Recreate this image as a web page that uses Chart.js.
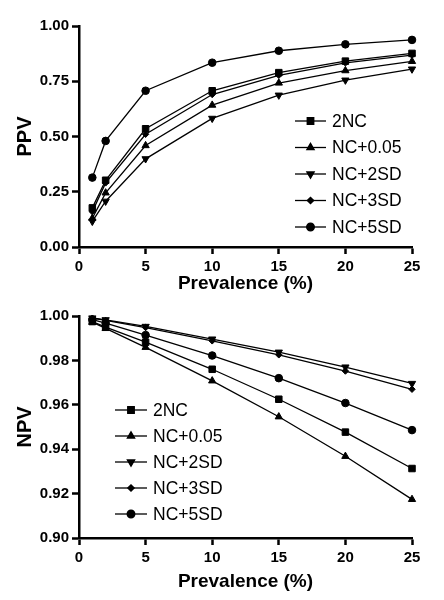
<!DOCTYPE html>
<html>
<head>
<meta charset="utf-8">
<script src="https://cdn.jsdelivr.net/npm/chart.js@4/dist/chart.umd.min.js"></script>
<style>
  html, body { margin: 0; padding: 0; background: #fff; }
  .box { width: 444px; height: 300px; position: relative; }
</style>
</head>
<body>
<div class="box"><canvas id="ppvChart" width="444" height="300"></canvas></div>
<div class="box"><canvas id="npvChart" width="444" height="300"></canvas></div>
<script>
// ── DATA ──────────────────────────────────────────────────────────────────────
const prevalence = [1, 2, 5, 10, 15, 20, 25];
const seriesNames = ['2NC', 'NC+0.05', 'NC+2SD', 'NC+3SD', 'NC+5SD'];

const ppv2NC    = [0.177, 0.302, 0.535, 0.707, 0.789, 0.841, 0.876];
const ppvNC005  = [0.130, 0.245, 0.459, 0.642, 0.742, 0.798, 0.840];
const ppvNC2SD  = [0.116, 0.207, 0.399, 0.582, 0.687, 0.755, 0.805];
const ppvNC3SD  = [0.160, 0.290, 0.510, 0.690, 0.777, 0.833, 0.868];
const ppvNC5SD  = [0.314, 0.480, 0.707, 0.834, 0.888, 0.917, 0.937];

const npv2NC    = [0.9975, 0.9950, 0.9882, 0.9760, 0.9625, 0.9477, 0.9313];
const npvNC005  = [0.9972, 0.9944, 0.9859, 0.9708, 0.9546, 0.9368, 0.9174];
const npvNC2SD  = [0.9991, 0.9983, 0.9953, 0.9896, 0.9837, 0.9770, 0.9696];
const npvNC3SD  = [0.9990, 0.9980, 0.9948, 0.9888, 0.9825, 0.9752, 0.9670];
const npvNC5SD  = [0.9984, 0.9968, 0.9914, 0.9822, 0.9720, 0.9608, 0.9486];

const xTicks = [0, 5, 10, 15, 20, 25];

// marker per series: square, triangle, inverted triangle, small diamond, circle
const markers = [
  { pointStyle: 'rect',     radius: 4.6, rotation: 0 },
  { pointStyle: 'triangle', radius: 4.2, rotation: 0 },
  { pointStyle: 'triangle', radius: 4.2, rotation: 180 },
  { pointStyle: 'rectRot',  radius: 3.2, rotation: 0 },
  { pointStyle: 'circle',   radius: 3.8, rotation: 0 }
];

const FONT = "'Liberation Sans', Arial, sans-serif";

function makeDatasets(seriesArr) {
  return seriesArr.map((vals, i) => ({
    label: seriesNames[i],
    data: vals.map((v, j) => ({ x: prevalence[j], y: v })),
    borderColor: '#000',
    backgroundColor: '#000',
    borderWidth: 1.3,
    pointStyle: markers[i].pointStyle,
    pointRadius: markers[i].radius,
    pointRotation: markers[i].rotation,
    pointBackgroundColor: '#000',
    pointBorderColor: '#000',
    pointBorderWidth: 1,
    tension: 0,
    clip: false
  }));
}

// legend drawn inside the plot (GraphPad style)
const insideLegend = {
  id: 'insideLegend',
  afterDatasetsDraw(chart, args, opts) {
    const ctx = chart.ctx;
    ctx.save();
    ctx.font = '17.5px ' + FONT;
    ctx.textBaseline = 'middle';
    ctx.textAlign = 'left';
    seriesNames.forEach((name, i) => {
      const y = opts.y + i * opts.gap;
      ctx.strokeStyle = '#000';
      ctx.lineWidth = 1.3;
      ctx.beginPath();
      ctx.moveTo(opts.x, y);
      ctx.lineTo(opts.x + opts.len, y);
      ctx.stroke();
      ctx.fillStyle = '#000';
      Chart.helpers.drawPoint(ctx, {
        pointStyle: markers[i].pointStyle,
        radius: markers[i].radius,
        rotation: markers[i].rotation,
        borderWidth: 1
      }, opts.x + opts.len / 2, y);
      ctx.fill();
      ctx.fillText(name, opts.x + opts.len + 6, y + 1);
    });
    ctx.restore();
  }
};

function makeChart(id, datasets, cfg) {
  return new Chart(document.getElementById(id), {
    type: 'line',
    data: { datasets },
    plugins: [insideLegend],
    options: {
      responsive: false,
      animation: false,
      layout: { padding: { top: cfg.top, right: 32, left: 0, bottom: 0 } },
      plugins: {
        legend: { display: false },
        tooltip: { enabled: false },
        insideLegend: cfg.legend
      },
      scales: {
        x: {
          type: 'linear', min: 0, max: 25,
          afterBuildTicks: s => { s.ticks = xTicks.map(v => ({ value: v })); },
          afterFit: s => { s.height = cfg.xHeight; },
          border: { display: true, color: '#000', width: 2.5 },
          grid: { drawOnChartArea: false, drawTicks: true, tickLength: 7, tickColor: '#000', tickWidth: 2.5 },
          ticks: { color: '#000', padding: 4, font: { family: FONT, size: 15, weight: 'bold' }, maxRotation: 0 },
          title: { display: true, text: 'Prevalence (%)', color: '#000', padding: { top: 0, bottom: cfg.titlePad }, font: { family: FONT, size: 19, weight: 'bold' } }
        },
        y: {
          min: cfg.yMin, max: cfg.yMax,
          afterBuildTicks: s => { s.ticks = cfg.yTicks.map(v => ({ value: v })); },
          afterFit: s => { s.width = 79; },
          border: { display: true, color: '#000', width: 2.5 },
          grid: { drawOnChartArea: false, drawTicks: true, tickLength: 7, tickColor: '#000', tickWidth: 2.5 },
          ticks: { color: '#000', padding: 3, font: { family: FONT, size: 15, weight: 'bold' }, callback: v => v.toFixed(2) },
          title: { display: true, text: cfg.yTitle, color: '#000', padding: { top: 13, bottom: 0 }, font: { family: FONT, size: 20, weight: 'bold' } }
        }
      }
    }
  });
}

makeChart('ppvChart', makeDatasets([ppv2NC, ppvNC005, ppvNC2SD, ppvNC3SD, ppvNC5SD]), {
  top: 26, xHeight: 53, titlePad: 5,
  yMin: 0, yMax: 1, yTicks: [0, 0.25, 0.5, 0.75, 1.0], yTitle: 'PPV',
  legend: { x: 295, y: 121, gap: 26.5, len: 31 }
});

makeChart('npvChart', makeDatasets([npv2NC, npvNC005, npvNC2SD, npvNC3SD, npvNC5SD]), {
  top: 16, xHeight: 62, titlePad: 7,
  yMin: 0.90, yMax: 1.00, yTicks: [0.90, 0.92, 0.94, 0.96, 0.98, 1.00], yTitle: 'NPV',
  legend: { x: 115, y: 110, gap: 26, len: 32 }
});
</script>
</body>
</html>
